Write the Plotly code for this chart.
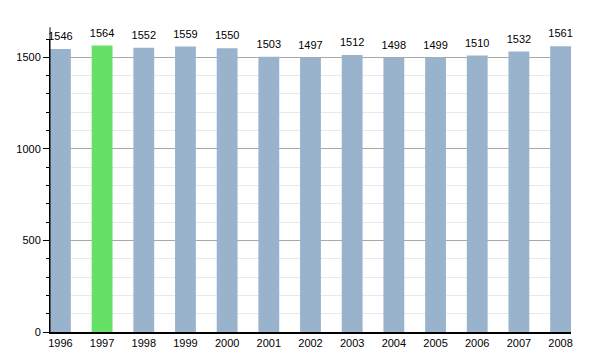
import plotly.graph_objects as go

years = ["1996", "1997", "1998", "1999", "2000", "2001", "2002", "2003", "2004", "2005", "2006", "2007", "2008"]
population = [1546, 1564, 1552, 1559, 1550, 1503, 1497, 1512, 1498, 1499, 1510, 1532, 1561]
highlight_year = "1997"

colors = ["#66E066" if y == highlight_year else "#9AB3CD" for y in years]

fig = go.Figure()
fig.add_trace(go.Bar(
    x=years, y=population, width=0.5,
    marker=dict(color=colors, line=dict(width=0)),
    hoverinfo="x+y",
))
fig.add_trace(go.Scatter(
    x=years, y=population, mode="markers+text",
    marker=dict(size=8, opacity=0),
    text=[str(v) for v in population], textposition="top center",
    textfont=dict(size=11, color="#000000", family="Liberation Sans"),
    cliponaxis=False, hoverinfo="skip",
))

fig.update_layout(
    width=600, height=350,
    margin=dict(l=50, r=29, t=39, b=18),
    paper_bgcolor="white", plot_bgcolor="white",
    showlegend=False,
    font=dict(family="Liberation Sans", size=11, color="#000000"),
    shapes=[dict(type="line", xref="paper", yref="paper", x0=0, x1=0, y0=0, y1=1.04,
                 line=dict(color="#000000", width=1))],
)
fig.update_xaxes(
    type="category", range=[-0.25, 12.25], automargin=False,
    showline=True, linecolor="#000000", linewidth=1.5,
    ticks="", showgrid=False, tickfont=dict(size=11),
)
fig.update_yaxes(
    range=[0, 1600], tickvals=[0, 500, 1000, 1500], automargin=False,
    showline=True, linecolor="#000000", linewidth=1,
    ticks="outside", ticklen=6, tickcolor="#000000",
    showgrid=True, gridcolor="#A8A8A8", gridwidth=1,
    minor=dict(dtick=100, tick0=0, ticks="outside", ticklen=3, tickcolor="#000000",
               showgrid=True, gridcolor="#E6E9EE", gridwidth=1),
    zeroline=False, tickfont=dict(size=11),
)

fig.write_html("out.html")
